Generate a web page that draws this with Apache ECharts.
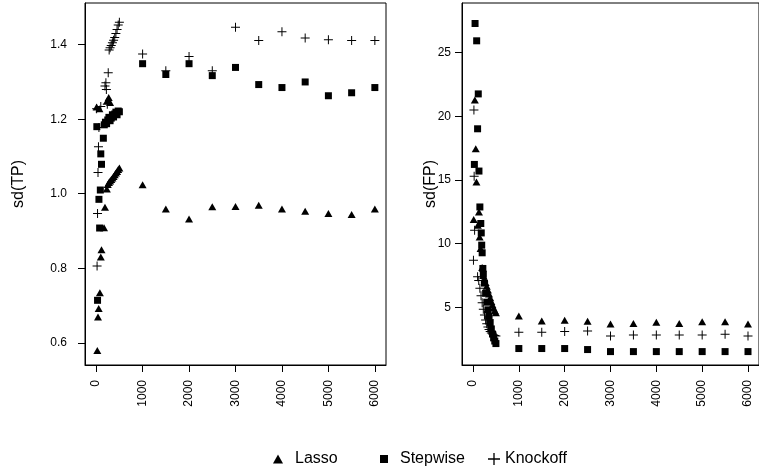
<!DOCTYPE html>
<html><head><meta charset="utf-8">
<script src="https://cdn.jsdelivr.net/npm/echarts@6/dist/echarts.min.js"></script>
<style>html,body{margin:0;padding:0;background:#fff}#c{width:759px;height:472px}</style>
</head><body><div id="c"></div>
<script>
// ---------- data ----------
const xTicks = [0, 1000, 2000, 3000, 4000, 5000, 6000];
const tpTicks = [0.6, 0.8, 1.0, 1.2, 1.4];
const fpTicks = [5, 10, 15, 20, 25];
const tailX = [1000, 1500, 2000, 2500, 3000, 3500, 4000, 4500, 5000, 5500, 6000];

// Left panel: sd(TP)
const lassoTPx = [10, 70, 25, 40, 55, 80, 100, 115, 170, 190, 230, 240, 270, 300, 250, 275, 300, 325, 350, 375, 400, 425, 450, 475, 500].concat(tailX);
const lassoTP  = [1.233, 1.228, 0.579, 0.669, 0.692, 0.734, 0.830, 0.850, 0.909, 0.964, 1.013, 1.250, 1.258, 1.245, 1.025, 1.030, 1.034, 1.038, 1.042, 1.046, 1.051, 1.056, 1.060, 1.065, 1.069,
                  1.024, 0.959, 0.932, 0.965, 0.966, 0.969, 0.959, 0.953, 0.947, 0.944, 0.959];
const stepTPx  = [15, 30, 60, 75, 90, 100, 115, 155, 175, 200, 225, 250, 275, 300, 325, 350, 375, 400, 425, 450, 475, 500].concat(tailX);
const stepTP   = [1.180, 0.714, 0.985, 0.908, 1.010, 1.107, 1.079, 1.149, 1.185, 1.192, 1.188, 1.198, 1.205, 1.196, 1.203, 1.212, 1.206, 1.214, 1.219, 1.212, 1.222, 1.220,
                  1.349, 1.320, 1.349, 1.317, 1.339, 1.293, 1.285, 1.300, 1.263, 1.271, 1.285];
const knockTPx = [10, 20, 30, 40, 50, 60, 100, 190, 210, 220, 240, 260, 280, 300, 325, 350, 375, 400, 425, 450, 475, 500].concat(tailX);
const knockTP  = [1.228, 0.806, 0.947, 1.057, 1.126, 1.178, 1.234, 1.289, 1.298, 1.280, 1.240, 1.325, 1.386, 1.392, 1.398, 1.405, 1.412, 1.419, 1.430, 1.441, 1.453, 1.460,
                  1.375, 1.330, 1.368, 1.330, 1.447, 1.411, 1.435, 1.418, 1.413, 1.411, 1.411];

// Right panel: sd(FP)
const lassoFPx = [15, 40, 60, 75, 105, 130, 145, 165, 200, 225, 250, 275, 300, 325, 350, 375, 400, 425, 450, 475, 500].concat(tailX);
const lassoFP  = [11.89, 21.29, 17.45, 14.84, 11.44, 12.49, 10.53, 9.62, 8.13, 7.50, 7.25, 6.95, 6.65, 6.35, 6.05, 5.75, 5.45, 5.20, 4.95, 4.75, 4.58,
                  4.32, 3.93, 3.98, 3.90, 3.69, 3.72, 3.82, 3.72, 3.87, 3.87, 3.69];
const stepFPx  = [30, 45, 80, 100, 115, 130, 150, 170, 180, 190, 200, 215, 225, 250, 275, 300, 325, 350, 375, 400, 425, 450, 475, 500].concat(tailX);
const stepFP   = [16.22, 27.29, 25.93, 19.02, 21.76, 15.70, 12.88, 11.58, 10.84, 9.88, 9.28, 8.05, 7.60, 6.90, 6.10, 5.40, 4.80, 4.30, 3.80, 3.30, 2.90, 2.60, 2.35, 2.15,
                  1.76, 1.76, 1.76, 1.68, 1.52, 1.52, 1.52, 1.52, 1.52, 1.52, 1.52];
const knockFPx = [10, 20, 25, 35, 100, 125, 150, 175, 200, 225, 250, 275, 300, 325, 350, 375, 400, 425, 450, 475, 500].concat(tailX);
const knockFP  = [8.70, 20.50, 15.30, 11.05, 7.40, 7.10, 6.50, 5.90, 5.35, 4.85, 4.40, 4.00, 3.70, 3.45, 3.25, 3.10, 2.98, 2.90, 2.83, 2.78, 2.75,
                  3.04, 3.04, 3.09, 3.14, 2.75, 2.83, 2.83, 2.83, 2.83, 2.88, 2.75];

// ---------- chart ----------
const FONT = 'Liberation Sans, Arial, Helvetica, sans-serif';
const PLUS = 'path://M0,4.45L10,4.45L10,5.55L0,5.55Z M4.45,0L5.55,0L5.55,10L4.45,10Z';
const pairs = (xs, ys) => xs.map((x, i) => [x, ys[i]]);

function xAxisFor(gi) {
  return {
    type: 'value', gridIndex: gi, min: -240, max: 6240,
    splitLine: { show: false },
    axisLine: { show: true, onZero: false, lineStyle: { color: '#000', width: 1 } },
    axisTick: { show: true, length: 7, customValues: xTicks, lineStyle: { color: '#000', width: 1 } },
    axisLabel: { customValues: xTicks, rotate: 90, margin: 15, color: '#000', fontSize: 12, fontFamily: FONT,
                 formatter: v => String(v) }
  };
}
function yAxisFor(gi, min, max, ticks, name, gap, margin, fmt) {
  return {
    type: 'value', gridIndex: gi, min: min, max: max,
    name: name, nameLocation: 'middle', nameGap: gap, nameRotate: 90, nameMoveOverlap: false,
    nameTextStyle: { color: '#000', fontSize: 16, fontFamily: FONT },
    splitLine: { show: false },
    axisLine: { show: true, onZero: false, lineStyle: { color: '#000', width: 1 } },
    axisTick: { show: true, length: 7, customValues: ticks, lineStyle: { color: '#000', width: 1 } },
    axisLabel: { customValues: ticks, margin: margin, color: '#000', fontSize: 12, fontFamily: FONT, formatter: fmt }
  };
}
function sc(name, gi, data, symbol, size) {
  return {
    type: 'scatter', name: name, xAxisIndex: gi, yAxisIndex: gi, data: data,
    symbol: symbol, symbolSize: size, itemStyle: { color: '#000', opacity: 1 },
    emphasis: { disabled: true }, animation: false
  };
}
function leg(name, icon, left, w, h, pad) {
  return {
    left: left, top: 451, padding: 0, orient: 'horizontal', itemWidth: w, itemHeight: h, itemGap: 0,
    selectedMode: false,
    data: [{ name: name, icon: icon, itemStyle: { color: '#000' } }],
    textStyle: { color: '#000', fontSize: 16, fontFamily: FONT, padding: [0, 0, 0, pad] }
  };
}

const chart = echarts.init(document.getElementById('c'));
chart.setOption({
  animation: false,
  backgroundColor: '#fff',
  grid: [
    { left: 85, top: 3, width: 301, height: 362, show: true, borderColor: '#000', borderWidth: 1 },
    { left: 462, top: 3, width: 302, height: 362, show: true, borderColor: '#000', borderWidth: 1 }
  ],
  xAxis: [xAxisFor(0), xAxisFor(1)],
  yAxis: [
    yAxisFor(0, 0.5404, 1.5119, tpTicks, 'sd(TP)', 58, 18, v => v.toFixed(1)),
    yAxisFor(1, 0.467, 28.90, fpTicks, 'sd(FP)', 23, 11, v => String(v))
  ],
  legend: [
    leg('Lasso', 'triangle', 273, 10, 9, 7),
    leg('Stepwise', 'rect', 380, 8, 8, 7),
    leg('Knockoff', PLUS, 488, 12, 12, 0)
  ],
  series: [
    sc('Lasso', 0, pairs(lassoTPx, lassoTP), 'triangle', [8, 7]),
    sc('Stepwise', 0, pairs(stepTPx, stepTP), 'rect', 7),
    sc('Knockoff', 0, pairs(knockTPx, knockTP), PLUS, 9),
    sc('Lasso', 1, pairs(lassoFPx, lassoFP), 'triangle', [8, 7]),
    sc('Stepwise', 1, pairs(stepFPx, stepFP), 'rect', 7),
    sc('Knockoff', 1, pairs(knockFPx, knockFP), PLUS, 9)
  ]
});
</script></body></html>
